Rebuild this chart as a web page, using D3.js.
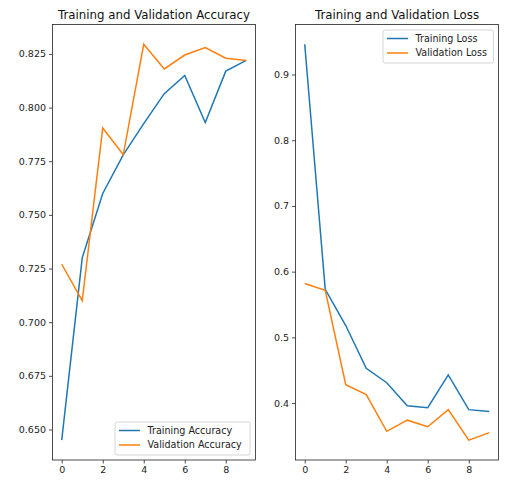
<!DOCTYPE html>
<html>
  <head>
    <title>Training and Validation</title>
    <style>
      body { margin: 0; background: #fff; }
      svg { display: block; font-family: "DejaVu Sans", sans-serif; }
    </style>
  </head>
  <body>
    <svg width="513" height="484"></svg>
    <script src="https://d3js.org/d3.v7.min.js"></script>
    <script>

    // values
    var epochs = [0, 1, 2, 3, 4, 5, 6, 7, 8, 9];
    var trainAcc = [0.645, 0.730, 0.760, 0.778, 0.7925, 0.8065, 0.815, 0.793, 0.817, 0.822];
    var valAcc   = [0.727, 0.710, 0.7905, 0.778, 0.8295, 0.818, 0.8245, 0.828, 0.823, 0.822];
    var trainLoss = [0.946, 0.573, 0.518, 0.453, 0.431, 0.396, 0.393, 0.443, 0.390, 0.387];
    var valLoss   = [0.582, 0.5715, 0.428, 0.413, 0.357, 0.374, 0.364, 0.390, 0.3435, 0.355];
    var xTicks = [0, 2, 4, 6, 8];
    var accTicks = [0.650, 0.675, 0.700, 0.725, 0.750, 0.775, 0.800, 0.825];
    var lossTicks = [0.4, 0.5, 0.6, 0.7, 0.8, 0.9];

    var blue = "#1f77b4", orange = "#ff7f0e";
    var svg = d3.select("svg");

    // matplotlib style: 5% padding around the data
    function padded(vals) {
      var ext = d3.extent(vals), m = (ext[1] - ext[0]) * 0.05;
      return [ext[0] - m, ext[1] + m];
    }

    function panel(box, title, s1, s2, names, yTicks, yFmt, legendPos) {
      var g = svg.append("g");

      var x = d3.scaleLinear().domain(padded(epochs)).range([box.left, box.right]);
      var y = d3.scaleLinear().domain(padded(s1.concat(s2))).range([box.bottom, box.top]);

      var line = d3.line()
          .x(function(d, i) { return x(epochs[i]); })
          .y(function(d) { return y(d); });

      g.append("path").attr("d", line(s1))
          .attr("fill", "none").attr("stroke", blue).attr("stroke-width", 1.5);
      g.append("path").attr("d", line(s2))
          .attr("fill", "none").attr("stroke", orange).attr("stroke-width", 1.5);

      var xAxis = g.append("g")
          .attr("transform", "translate(0," + box.bottom + ")")
          .call(d3.axisBottom(x).tickValues(xTicks).tickSize(3.5).tickPadding(3));
      var yAxis = g.append("g")
          .attr("transform", "translate(" + box.left + ",0)")
          .call(d3.axisLeft(y).tickValues(yTicks).tickFormat(d3.format(yFmt)).tickSize(3.5).tickPadding(3));
      [xAxis, yAxis].forEach(function(a) {
        a.select(".domain").remove();
        a.selectAll("text").attr("font-size", 9.5).attr("fill", "#222").attr("font-family", "DejaVu Sans");
        a.selectAll("line").attr("stroke", "#222").attr("stroke-width", 0.8);
      });

      // frame
      g.append("rect")
          .attr("x", box.left).attr("y", box.top)
          .attr("width", box.right - box.left).attr("height", box.bottom - box.top)
          .attr("fill", "none").attr("stroke", "#222").attr("stroke-width", 0.8);

      g.append("text")
          .attr("x", (box.left + box.right) / 2).attr("y", box.top - 6)
          .attr("text-anchor", "middle").attr("font-size", 11.8).attr("fill", "#111")
          .text(title);

      // legend
      var lg = g.append("g").attr("transform", "translate(" + legendPos.x + "," + legendPos.y + ")");
      lg.append("rect")
          .attr("width", legendPos.w).attr("height", 33).attr("rx", 2)
          .attr("fill", "#fff").attr("fill-opacity", 0.8)
          .attr("stroke", "#ccc").attr("stroke-width", 0.8);
      [blue, orange].forEach(function(c, i) {
        lg.append("line")
            .attr("x1", 4).attr("x2", 25).attr("y1", 8.5 + i * 14.5).attr("y2", 8.5 + i * 14.5)
            .attr("stroke", c).attr("stroke-width", 1.5);
        lg.append("text")
            .attr("x", 32.5).attr("y", 8.5 + i * 14.5).attr("dy", "0.35em")
            .attr("font-size", 9.6).attr("fill", "#222")
            .text(names[i]);
      });
    }

    panel({left: 52.5, right: 255.5, top: 24.5, bottom: 460},
      "Training and Validation Accuracy", trainAcc, valAcc,
      ["Training Accuracy", "Validation Accuracy"], accTicks, ".3f",
      {x: 115, y: 422, w: 135});

    panel({left: 295.5, right: 498.5, top: 24.5, bottom: 460},
      "Training and Validation Loss", trainLoss, valLoss,
      ["Training Loss", "Validation Loss"], lossTicks, ".1f",
      {x: 383, y: 30, w: 110.5});

    </script>
  </body>
</html>
